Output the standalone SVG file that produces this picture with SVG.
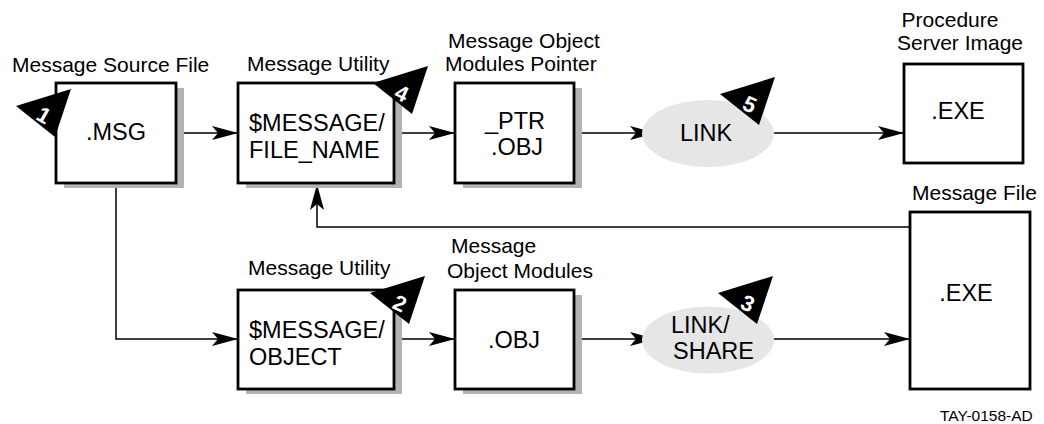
<svg xmlns="http://www.w3.org/2000/svg" width="1044" height="424" viewBox="0 0 1044 424">
<style>
.lbl{font-family:"Liberation Sans",Arial,sans-serif;font-size:21px;fill:#000}
.txt{font-family:"Liberation Sans",Arial,sans-serif;font-size:23.5px;fill:#000}
.box{fill:#fff;stroke:#000;stroke-width:2.8}
.shadow{fill:#b3b3b3}
.oval{fill:#e6e6e6}
.conn{fill:none;stroke:#000;stroke-width:1.5}
.num{font-family:"Liberation Sans",Arial,sans-serif;font-size:22px;font-weight:bold;fill:#fff;text-anchor:middle}
.tag{font-family:"Liberation Sans",Arial,sans-serif;font-size:15.5px;fill:#000}
</style>
<defs>
<marker id="arr" markerUnits="userSpaceOnUse" markerWidth="26" markerHeight="14" viewBox="0 0 26 14" refX="26" refY="7" orient="auto">
<path d="M0,0 L26,7 L0,14 L6,7 Z" fill="#000"/>
</marker>
<path id="tri" d="M0,0 L55,-17 L39,31 Z" fill="#000"/>
</defs>
<rect width="1044" height="424" fill="#fff"/>

<g id="connectors">
<path class="conn" d="M176,133 H238" marker-end="url(#arr)"/>
<path class="conn" d="M394,133 H455" marker-end="url(#arr)"/>
<path class="conn" d="M574,133 H656" marker-end="url(#arr)"/>
<path class="conn" d="M774,133 H904" marker-end="url(#arr)"/>
<path class="conn" d="M910,227 H317 V184" marker-end="url(#arr)"/>
<path class="conn" d="M116,183 V339 H238" marker-end="url(#arr)"/>
<path class="conn" d="M394,339 H455" marker-end="url(#arr)"/>
<path class="conn" d="M574,339 H656" marker-end="url(#arr)"/>
<path class="conn" d="M774,339 H910" marker-end="url(#arr)"/>
</g>

<g id="msg-source">
<text class="lbl" x="12" y="72">Message Source File</text>
<rect class="shadow" x="64" y="88" width="120" height="100"/>
<rect class="box" x="56" y="83" width="120" height="100"/>
<text class="txt" x="116" y="140" text-anchor="middle">.MSG</text>
</g>

<g id="msg-utility-top">
<text class="lbl" x="247" y="71">Message Utility</text>
<rect class="shadow" x="246" y="88" width="156" height="100"/>
<rect class="box" x="238" y="83" width="156" height="100"/>
<text class="txt" x="249" y="131">$MESSAGE/</text>
<text class="txt" x="249" y="158">FILE_NAME</text>
</g>

<g id="ptr-obj">
<text class="lbl" x="448" y="48">Message Object</text>
<text class="lbl" x="445" y="71">Modules Pointer</text>
<rect class="shadow" x="463" y="88" width="119" height="100"/>
<rect class="box" x="455" y="83" width="119" height="100"/>
<text class="txt" x="515" y="129" text-anchor="middle">_PTR</text>
<text class="txt" x="517" y="155" text-anchor="middle">.OBJ</text>
</g>

<g id="link-top">
<ellipse class="oval" cx="708" cy="133.5" rx="66" ry="33.5"/>
<text class="txt" x="706" y="141" text-anchor="middle">LINK</text>
</g>

<g id="exe-top">
<text class="lbl" x="950" y="27" text-anchor="middle">Procedure</text>
<text class="lbl" x="960" y="50" text-anchor="middle">Server Image</text>
<rect class="box" x="904" y="64" width="119" height="99"/>
<text class="txt" x="958" y="119" text-anchor="middle">.EXE</text>
</g>

<g id="msg-utility-bottom">
<text class="lbl" x="248" y="275">Message Utility</text>
<rect class="shadow" x="246" y="295" width="156" height="99"/>
<rect class="box" x="238" y="290" width="156" height="99"/>
<text class="txt" x="249" y="338">$MESSAGE/</text>
<text class="txt" x="249" y="365">OBJECT</text>
</g>

<g id="obj">
<text class="lbl" x="451" y="253">Message</text>
<text class="lbl" x="447" y="278">Object Modules</text>
<rect class="shadow" x="463" y="295" width="119" height="99"/>
<rect class="box" x="455" y="290" width="119" height="99"/>
<text class="txt" x="514" y="348" text-anchor="middle">.OBJ</text>
</g>

<g id="link-share">
<ellipse class="oval" cx="708" cy="340" rx="66" ry="33.5"/>
<text class="txt" x="671" y="333">LINK/</text>
<text class="txt" x="673" y="359">SHARE</text>
</g>

<g id="msg-file">
<text class="lbl" x="912" y="200">Message File</text>
<rect class="box" x="910" y="212" width="120" height="177"/>
<text class="txt" x="966" y="301" text-anchor="middle">.EXE</text>
</g>

<g id="badge-1">
<use href="#tri" transform="translate(16,106)"/>
<text class="num" transform="translate(44,115) rotate(30)" y="8">1</text>
</g>
<g id="badge-4">
<use href="#tri" transform="translate(373,83)"/>
<text class="num" transform="translate(402,93) rotate(25)" y="8">4</text>
</g>
<g id="badge-5">
<use href="#tri" transform="translate(720,94)"/>
<text class="num" transform="translate(750,104) rotate(25)" y="8">5</text>
</g>
<g id="badge-2">
<use href="#tri" transform="translate(370,293)"/>
<text class="num" transform="translate(400,303) rotate(25)" y="8">2</text>
</g>
<g id="badge-3">
<use href="#tri" transform="translate(718,293)"/>
<text class="num" transform="translate(748,303) rotate(25)" y="8">3</text>
</g>

<text class="tag" x="940" y="421">TAY-0158-AD</text>
</svg>
